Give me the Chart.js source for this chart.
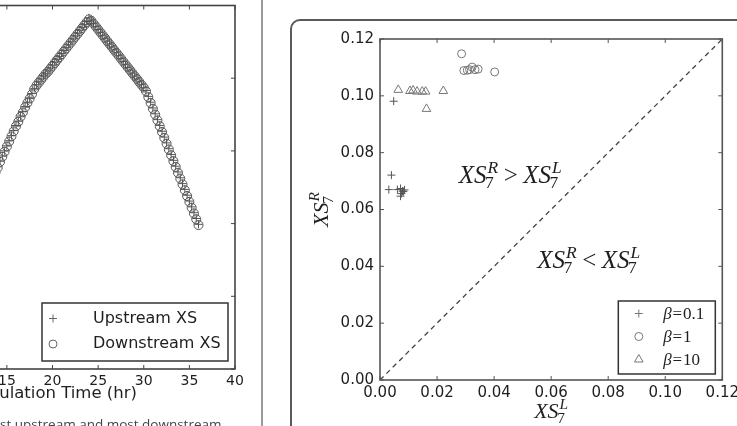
<!DOCTYPE html>
<html>
<head>
<meta charset="utf-8">
<script src="https://cdn.jsdelivr.net/npm/chart.js@4/dist/chart.umd.min.js"></script>
<style>
  html, body { margin: 0; padding: 0; background: #fff; }
  body { width: 737px; height: 426px; position: relative; overflow: hidden; }
  #leftWrap { position: absolute; left: -200px; top: 0; width: 460px; height: 426px; }
  #rightWrap { position: absolute; left: 300px; top: 0; width: 443px; height: 426px; }
  #divider { position: absolute; left: 261px; top: 0; width: 2px; height: 426px; background: #9a9a9a; }
  #panelBox { position: absolute; left: 290px; top: 19px; width: 480px; height: 440px;
              border: 2px solid #5a5a5a; border-radius: 10px; box-sizing: border-box; }
  #caption { position: absolute; left: 0; top: 415px; font: 13.5px "Open Sans", sans-serif;
             color: #444; white-space: nowrap; }
</style>
</head>
<body>
<div id="divider"></div>
<div id="panelBox"></div>
<div id="leftWrap"><canvas id="timeChart"></canvas></div>
<div id="rightWrap"><canvas id="xsChart"></canvas></div>
<div id="caption">st upstream and most downstream</div>

<script>
// ---- left panel data (hours vs. value at the two cross sections) ----
const timeHours = [13.5, 13.75, 14, 14.25, 14.5, 14.75, 15, 15.25, 15.5, 15.75,
  16, 16.25, 16.5, 16.75, 17, 17.25, 17.5, 17.75, 18, 18.25,
  18.5, 18.75, 19, 19.25, 19.5, 19.75, 20, 20.25, 20.5, 20.75,
  21, 21.25, 21.5, 21.75, 22, 22.25, 22.5, 22.75, 23, 23.25,
  23.5, 23.75, 24, 24.25, 24.5, 24.75, 25, 25.25, 25.5, 25.75,
  26, 26.25, 26.5, 26.75, 27, 27.25, 27.5, 27.75, 28, 28.25,
  28.5, 28.75, 29, 29.25, 29.5, 29.75, 30, 30.25, 30.5, 30.75,
  31, 31.25, 31.5, 31.75, 32, 32.25, 32.5, 32.75, 33, 33.25,
  33.5, 33.75, 34, 34.25, 34.5, 34.75, 35, 35.25, 35.5, 35.75, 36];
const upstreamXS = [2.63, 2.71, 2.78, 2.86, 2.93, 3.00, 3.07, 3.14, 3.21, 3.28,
  3.35, 3.41, 3.48, 3.54, 3.61, 3.67, 3.73, 3.79, 3.86, 3.91,
  3.95, 3.99, 4.03, 4.06, 4.10, 4.14, 4.18, 4.22, 4.26, 4.30,
  4.34, 4.38, 4.42, 4.46, 4.50, 4.54, 4.58, 4.62, 4.66, 4.70,
  4.74, 4.78, 4.83, 4.79, 4.75, 4.71, 4.67, 4.63, 4.59, 4.55,
  4.51, 4.47, 4.43, 4.39, 4.35, 4.31, 4.27, 4.23, 4.19, 4.15,
  4.11, 4.07, 4.03, 3.99, 3.95, 3.91, 3.87, 3.83, 3.75, 3.67,
  3.59, 3.51, 3.43, 3.35, 3.27, 3.19, 3.11, 3.03, 2.95, 2.87,
  2.79, 2.71, 2.63, 2.55, 2.47, 2.39, 2.31, 2.23, 2.15, 2.07, 1.99];
const downstreamXS = [2.62, 2.70, 2.77, 2.85, 2.92, 2.99, 3.06, 3.13, 3.20, 3.27,
  3.34, 3.40, 3.47, 3.53, 3.60, 3.66, 3.72, 3.78, 3.85, 3.90,
  3.94, 3.98, 4.02, 4.06, 4.09, 4.13, 4.17, 4.21, 4.25, 4.29,
  4.33, 4.37, 4.41, 4.45, 4.49, 4.53, 4.57, 4.61, 4.65, 4.69,
  4.73, 4.77, 4.81, 4.79, 4.75, 4.71, 4.67, 4.63, 4.59, 4.55,
  4.51, 4.47, 4.43, 4.39, 4.35, 4.31, 4.27, 4.23, 4.19, 4.15,
  4.11, 4.07, 4.03, 3.99, 3.95, 3.91, 3.87, 3.82, 3.74, 3.66,
  3.58, 3.50, 3.42, 3.34, 3.26, 3.18, 3.10, 3.02, 2.94, 2.86,
  2.78, 2.70, 2.62, 2.54, 2.46, 2.38, 2.30, 2.22, 2.14, 2.06, 1.98];
const timeTicks = [0, 5, 10, 15, 20, 25, 30, 35, 40];

// ---- right panel data (XS7 left vs right) ----
const beta01X = [0.0048, 0.0040, 0.0031, 0.0061, 0.0072, 0.0079, 0.0086, 0.0075, 0.0082, 0.0072];
const beta01Y = [0.0981, 0.0721, 0.0670, 0.0670, 0.0674, 0.0665, 0.0669, 0.0656, 0.0663, 0.0647];
const beta1X = [0.0286, 0.0294, 0.0306, 0.0314, 0.0323, 0.0333, 0.0344, 0.0402];
const beta1Y = [0.1148, 0.1089, 0.1090, 0.1092, 0.1101, 0.1092, 0.1094, 0.1084];
const beta10X = [0.0064, 0.0105, 0.0116, 0.0130, 0.0148, 0.0160, 0.0163, 0.0222];
const beta10Y = [0.1021, 0.1017, 0.1019, 0.1015, 0.1015, 0.1015, 0.0954, 0.1017];
const diagonalX = [0, 0.12];
const diagonalY = [0, 0.12];
const xsTicks = [0, 0.02, 0.04, 0.06, 0.08, 0.10, 0.12];

const pts = (xs, ys) => xs.map((x, i) => ({ x: x, y: ys[i] }));
const SERIF = '"Liberation Serif", "DejaVu Serif", serif';
const SANS = '"DejaVu Sans", sans-serif';

// draws XS with stacked sub/superscripts etc.
function mathWidth(ctx, pieces, size) {
  let w = 0;
  for (const p of pieces) {
    ctx.font = (p.it ? 'italic ' : '') + size + 'px ' + SERIF;
    p.w = ctx.measureText(p.t).width + (p.pad || 0) * 2 * size;
    p.sw = 0;
    if (p.sup || p.sub) {
      ctx.font = 'italic ' + size * 0.7 + 'px ' + SERIF;
      const a = ctx.measureText(p.sup || '').width;
      ctx.font = size * 0.7 + 'px ' + SERIF;
      const b = ctx.measureText(p.sub || '').width;
      p.sw = Math.max(a, b) + 1;
    }
    w += p.w + p.sw;
  }
  return w;
}

function drawMath(ctx, pieces, x, y, size, align) {
  ctx.save();
  ctx.textBaseline = 'alphabetic';
  ctx.textAlign = 'left';
  ctx.fillStyle = '#1e1e1e';
  const total = mathWidth(ctx, pieces, size);
  let cx = align === 'center' ? x - total / 2 : x;
  for (const p of pieces) {
    ctx.font = (p.it ? 'italic ' : '') + size + 'px ' + SERIF;
    ctx.fillText(p.t, cx + (p.pad || 0) * size, y);
    cx += p.w;
    if (p.sup) {
      ctx.font = 'italic ' + size * 0.7 + 'px ' + SERIF;
      ctx.fillText(p.sup, cx + 1, y - size * 0.4);
    }
    if (p.sub) {
      ctx.font = size * 0.7 + 'px ' + SERIF;
      ctx.fillText(p.sub, cx - size * 0.06, y + size * 0.22);
    }
    cx += p.sw;
  }
  ctx.restore();
}

const xsR = { t: 'XS', it: true, sup: 'R', sub: '7' };
const xsL = { t: 'XS', it: true, sup: 'L', sub: '7' };

function drawMarker(ctx, style, x, y, r) {
  ctx.beginPath();
  if (style === 'cross') {
    ctx.moveTo(x - r, y); ctx.lineTo(x + r, y);
    ctx.moveTo(x, y - r); ctx.lineTo(x, y + r);
  } else if (style === 'circle') {
    ctx.arc(x, y, r, 0, Math.PI * 2);
  } else {
    ctx.moveTo(x, y - r);
    ctx.lineTo(x + r * 0.87, y + r * 0.5);
    ctx.lineTo(x - r * 0.87, y + r * 0.5);
    ctx.closePath();
  }
  ctx.stroke();
}

// matplotlib-like box with inward ticks
function frameAndTicks(chart, color, len) {
  const { ctx, chartArea: a } = chart;
  const xs = chart.scales.x, ys = chart.scales.y;
  ctx.save();
  ctx.strokeStyle = color;
  ctx.lineWidth = 1;
  ctx.beginPath();
  xs.ticks.forEach(t => {
    const px = xs.getPixelForValue(t.value);
    ctx.moveTo(px, a.bottom); ctx.lineTo(px, a.bottom - len);
    ctx.moveTo(px, a.top); ctx.lineTo(px, a.top + len);
  });
  ys.ticks.forEach(t => {
    const py = ys.getPixelForValue(t.value);
    ctx.moveTo(a.left, py); ctx.lineTo(a.left + len, py);
    ctx.moveTo(a.right, py); ctx.lineTo(a.right - len, py);
  });
  ctx.stroke();
  ctx.lineWidth = 1.6;
  ctx.strokeRect(a.left, a.top, a.right - a.left, a.bottom - a.top);
  ctx.restore();
}

// ---------------- left chart ----------------
const timeChart = new Chart(document.getElementById('timeChart'), {
  type: 'scatter',
  data: {
    datasets: [
      {
        label: 'Upstream XS',
        data: pts(timeHours, upstreamXS),
        pointStyle: 'cross',
        pointRadius: 4,
        borderColor: '#555',
        backgroundColor: 'rgba(0,0,0,0)',
        borderWidth: 1,
      },
      {
        label: 'Downstream XS',
        data: pts(timeHours, downstreamXS),
        pointStyle: 'circle',
        pointRadius: 4.5,
        borderColor: '#555',
        backgroundColor: 'rgba(0,0,0,0)',
        borderWidth: 1,
      },
    ],
  },
  options: {
    responsive: true,
    maintainAspectRatio: false,
    animation: false,
    layout: { padding: { top: 3, right: 25, bottom: 22, left: 0 } },
    scales: {
      x: {
        type: 'linear',
        min: 0,
        max: 40,
        afterBuildTicks: s => { s.ticks = timeTicks.map(v => ({ value: v })); },
        afterFit: s => { s.height = 35; },
        grid: { display: false, drawTicks: false },
        border: { display: false },
        ticks: { padding: 4, color: '#1e1e1e', font: { family: SANS, size: 14 } },
        title: {
          display: true,
          text: 'Simulation Time (hr)',
          color: '#1e1e1e',
          padding: 0,
          font: { family: SANS, size: 16.5 },
        },
      },
      y: {
        min: 0,
        max: 5,
        afterFit: s => { s.width = 70; },
        grid: { display: false, drawTicks: false },
        border: { display: false },
        ticks: { display: false, stepSize: 1 },
      },
    },
    plugins: { legend: { display: false }, tooltip: { enabled: false } },
  },
  plugins: [{
    id: 'timeDecor',
    afterDraw(chart) {
      frameAndTicks(chart, '#444', 4);
      const { ctx, chartArea: a } = chart;
      const bw = 186, bh = 58;
      const bx = a.right - 7 - bw, by = a.bottom - 8 - bh;
      ctx.save();
      ctx.fillStyle = '#fff';
      ctx.fillRect(bx, by, bw, bh);
      ctx.strokeStyle = '#333';
      ctx.lineWidth = 1.5;
      ctx.strokeRect(bx, by, bw, bh);
      ctx.font = '16px ' + SANS;
      ctx.textBaseline = 'middle';
      ctx.fillStyle = '#1e1e1e';
      chart.data.datasets.forEach((ds, i) => {
        const ry = by + 15.5 + i * 25.5;
        ctx.strokeStyle = '#666';
        ctx.lineWidth = 1;
        drawMarker(ctx, ds.pointStyle, bx + 11, ry, 4);
        ctx.fillText(ds.label, bx + 51, ry);
      });
      ctx.restore();
    },
  }],
});

// ---------------- right chart ----------------
const regionNotes = [
  { x: 0.0276, y: 0.0695, rel: '>' },
  { x: 0.0551, y: 0.0395, rel: '<' },
];

const xsChart = new Chart(document.getElementById('xsChart'), {
  type: 'scatter',
  data: {
    datasets: [
      {
        label: 'β=0.1',
        data: pts(beta01X, beta01Y),
        pointStyle: 'cross',
        pointRadius: 4,
        borderColor: '#555',
        backgroundColor: 'rgba(0,0,0,0)',
        borderWidth: 1,
      },
      {
        label: 'β=1',
        data: pts(beta1X, beta1Y),
        pointStyle: 'circle',
        pointRadius: 4,
        borderColor: '#777',
        backgroundColor: 'rgba(0,0,0,0)',
        borderWidth: 1,
      },
      {
        label: 'β=10',
        data: pts(beta10X, beta10Y),
        pointStyle: 'triangle',
        pointRadius: 5,
        borderColor: '#777',
        backgroundColor: 'rgba(0,0,0,0)',
        borderWidth: 1,
      },
      {
        label: 'diagonal',
        data: pts(diagonalX, diagonalY),
        showLine: true,
        pointRadius: 0,
        borderColor: '#444',
        borderWidth: 1.3,
        borderDash: [5, 4],
      },
    ],
  },
  options: {
    responsive: true,
    maintainAspectRatio: false,
    animation: false,
    layout: { padding: { top: 39, right: 15, bottom: 0, left: 0 } },
    scales: {
      x: {
        type: 'linear',
        min: 0,
        max: 0.12,
        afterBuildTicks: s => { s.ticks = xsTicks.map(v => ({ value: v })); },
        afterFit: s => { s.height = 46; },
        grid: { display: false, drawTicks: false },
        border: { display: false },
        ticks: {
          padding: 4,
          color: '#1e1e1e',
          font: { family: SANS, size: 15 },
          callback: v => v.toFixed(2),
        },
      },
      y: {
        min: 0,
        max: 0.12,
        afterBuildTicks: s => { s.ticks = xsTicks.map(v => ({ value: v })); },
        afterFit: s => { s.width = 80; },
        grid: { display: false, drawTicks: false },
        border: { display: false },
        ticks: {
          padding: 6,
          color: '#1e1e1e',
          font: { family: SANS, size: 15 },
          callback: v => v.toFixed(2),
        },
      },
    },
    plugins: { legend: { display: false }, tooltip: { enabled: false } },
  },
  plugins: [{
    id: 'xsDecor',
    afterDraw(chart) {
      frameAndTicks(chart, '#555', 4);
      const { ctx, chartArea: a } = chart;
      const xs = chart.scales.x, ys = chart.scales.y;

      // region labels
      regionNotes.forEach(n => {
        drawMath(ctx, [xsR, { t: n.rel, pad: 0.22 }, xsL],
          xs.getPixelForValue(n.x), ys.getPixelForValue(n.y), 25, 'left');
      });

      // axis titles
      drawMath(ctx, [xsL], (a.left + a.right) / 2, 418, 22, 'center');
      ctx.save();
      ctx.translate(28, (a.top + a.bottom) / 2);
      ctx.rotate(-Math.PI / 2);
      drawMath(ctx, [xsR], 0, 0, 22, 'center');
      ctx.restore();

      // legend
      const bw = 97, bh = 73;
      const bx = a.right - 7 - bw, by = a.bottom - 6 - bh;
      ctx.save();
      ctx.fillStyle = '#fff';
      ctx.fillRect(bx, by, bw, bh);
      ctx.strokeStyle = '#333';
      ctx.lineWidth = 1.5;
      ctx.strokeRect(bx, by, bw, bh);
      chart.data.datasets.slice(0, 3).forEach((ds, i) => {
        const ry = by + 12.5 + i * 23;
        ctx.strokeStyle = '#777';
        ctx.lineWidth = 1;
        drawMarker(ctx, ds.pointStyle, bx + 20.5, ry, ds.pointStyle === 'triangle' ? 5 : 4);
        const parts = ds.label.split('=');
        drawMath(ctx, [{ t: parts[0], it: true }, { t: '=', pad: 0.05 }, { t: parts[1] }],
          bx + 45, ry + 5.5, 17, 'left');
      });
      ctx.restore();
    },
  }],
});
</script>
</body>
</html>
